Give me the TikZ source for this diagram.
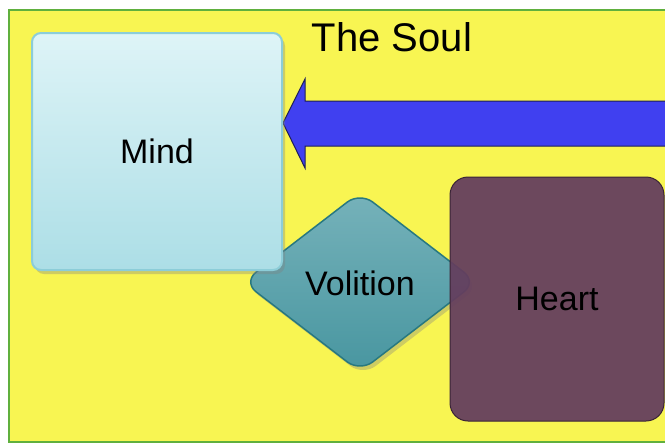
\documentclass[tikz,border=0pt]{standalone}
\usepackage{fontspec}
\setmainfont{Liberation Sans}
\usetikzlibrary{shapes.geometric,shadows}
\definecolor{soulyellow}{RGB}{248,245,82}
\definecolor{soulgreen}{RGB}{96,176,62}
\definecolor{mindtop}{RGB}{222,244,247}
\definecolor{mindbot}{RGB}{172,222,230}
\definecolor{mindline}{RGB}{140,205,216}
\definecolor{voltop}{RGB}{118,178,186}
\definecolor{volbot}{RGB}{72,150,160}
\definecolor{volline}{RGB}{40,120,128}
\definecolor{heartfill}{RGB}{100,62,94}
\definecolor{heartline}{RGB}{58,36,54}
\definecolor{arrowblue}{RGB}{64,64,240}
\definecolor{arrowline}{RGB}{30,30,90}
\tikzset{
  lbl/.style={font=\fontsize{34}{40}\selectfont, text=black},
  mindbox/.style={rectangle, rounded corners=9pt, draw=mindline, line width=2pt,
    top color=mindtop, bottom color=mindbot, minimum width=250pt, minimum height=237pt,
    drop shadow={opacity=0.35, shadow xshift=3pt, shadow yshift=-4pt}},
  volbox/.style={diamond, rounded corners=16pt, draw=volline, line width=1.5pt,
    top color=voltop, bottom color=volbot, minimum width=234pt, minimum height=180pt, inner sep=0pt,
    drop shadow={opacity=0.35, shadow xshift=3pt, shadow yshift=-4pt}},
  heartbox/.style={rectangle, rounded corners=18pt, draw=heartline, line width=1pt,
    fill=heartfill, fill opacity=0.94, text opacity=1, minimum width=214pt, minimum height=244pt},
}
\begin{document}
\begin{tikzpicture}[x=1pt,y=-1pt]
\useasboundingbox (0,0) rectangle (665,445);
\fill[white] (0,0) rectangle (665,445);
\draw[soulgreen, line width=2pt, fill=soulyellow] (8.5,9.5) rectangle (672,442);
\node[font=\fontsize{40}{46}\selectfont] (soul) at (392,37) {The Soul};
% arrow
\coordinate (tip) at (283,123);
\draw[arrowline, line width=1pt, fill=arrowblue, line join=miter]
  (tip) -- (305,79) -- (305,101) -- (672,101) -- (672,146) -- (305,146) -- (305,168) -- cycle;
\node[volbox, lbl] (volition) at (360,282) {};
\node[mindbox] (mind) at (157,151.5) {};
\node[lbl] at (mind) {Mind};
\node[lbl] at (360,283) {Volition};
\node[heartbox, lbl] (heart) at (557,299) {Heart};
\end{tikzpicture}
\end{document}
